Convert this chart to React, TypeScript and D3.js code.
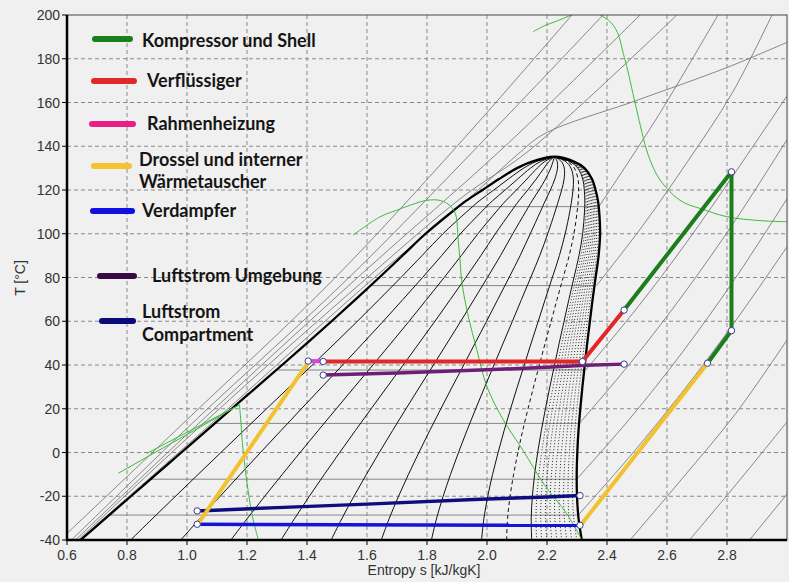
import React from "react";
import * as d3 from "d3";

// Saturation dome of the refrigerant (temperature in °C, entropy in kJ/kgK)
const satT = [-40, -30, -20, -10, 0, 10, 20, 30, 40, 50, 60, 70, 80, 90, 100, 110, 115, 120, 125, 130, 133, 135.2];
const satLiquidS = [0.645, 0.729, 0.813, 0.897, 0.981, 1.065, 1.149, 1.233, 1.317, 1.4, 1.482, 1.562, 1.641, 1.718, 1.795, 1.883, 1.93, 1.985, 2.04, 2.1, 2.15, 2.225];
const satVaporS = [2.316, 2.305, 2.3, 2.299, 2.301, 2.305, 2.311, 2.318, 2.326, 2.334, 2.343, 2.352, 2.362, 2.372, 2.377, 2.374, 2.37, 2.362, 2.35, 2.325, 2.29, 2.225];

// Vapour quality lines inside the dome
const qualitySolid = [0.1, 0.2, 0.3, 0.4, 0.5, 0.6, 0.7, 0.8, 0.9];
const qualityDashed = [0.85];
const qualityDotted = [0.91, 0.92, 0.93, 0.94, 0.95, 0.96, 0.97, 0.98, 0.99];

// Saturation temperatures of the isobars drawn across the two-phase region
const isobarSatT = [-28.6, -12.2, 13.3, 37.7, 76.3, 112.4];

// Isobars in the superheated vapour region [s, T]
const vaporIsobars: number[][][] = [
  [[2.477, -40], [2.65, -12], [2.83, 18], [3.0, 51.4]],
  [[2.675, -40], [2.84, -13], [3.0, 14]],
  [[2.875, -40], [3.0, -19]],
  [[2.304, -28.6], [2.475, -2], [2.65, 27.5], [2.825, 59.5], [3.0, 94]],
  [[2.299, -12.2], [2.475, 15.3], [2.65, 45.6], [2.825, 79.1], [3.0, 116]],
  [[2.308, 13.3], [2.481, 41.4], [2.654, 72.2], [2.827, 106], [3.0, 143]],
  [[2.329, 37.7], [2.4975, 65.6], [2.665, 96], [2.8325, 129], [3.0, 163]],
  [[2.365, 76.3], [2.518, 103.5], [2.668, 132.9], [2.818, 164.5], [2.95, 200]],
  [[2.373, 112.4], [2.571, 154], [2.77, 200]],
];

// High-pressure isobars along the liquid side and over the critical point [s, T]
const liquidIsobars: number[][][] = [
  [[0.6, -37], [1.0, 15], [1.487, 79], [1.9, 140], [2.283, 200]],
  [[0.615, -40], [1.03, 15], [1.54, 80], [1.97, 140], [2.387, 200]],
  [[0.628, -40], [1.06, 16], [1.585, 82], [2.06, 140], [2.51, 200]],
  [[0.637, -40], [1.08, 16.5], [1.61, 81], [1.92, 117], [2.14, 138], [2.633, 200]],
  [[0.641, -40], [1.1, 15.5], [1.625, 80], [1.93, 115], [2.1, 136], [2.19, 145.6], [2.5, 161], [2.8, 176], [3.0, 187.5]],
];

// Thin green isolines [s, T]
const greenLines: number[][][] = [
  [[0.771, -9.5], [1.175, 21.8]],
  [[0.866, -0.4], [1.175, 21.8]],
  [[1.175, 21.8], [1.178, 17], [1.188, -0.4], [1.216, -27.8], [1.238, -40]],
  [[1.554, 99.4], [1.643, 107.7], [1.7, 110.8], [1.76, 113.8], [1.8, 115.3], [1.845, 115.2], [1.877, 112.8], [1.895, 109], [1.904, 97], [1.91, 88], [1.916, 78], [1.938, 62], [1.966, 47], [2.0, 30], [2.054, 15], [2.12, 1], [2.19, -14.5], [2.266, -28], [2.316, -40]],
  [[2.377, 200], [2.41, 197], [2.435, 192], [2.455, 182], [2.466, 176.4], [2.499, 156.6], [2.532, 138.3], [2.555, 130], [2.577, 124.6], [2.621, 117.7], [2.66, 114], [2.71, 111.6], [2.799, 107.8], [2.91, 106], [3.0, 105.5]],
  [[2.154, 192.4], [2.19, 195], [2.232, 197.2], [2.282, 200]],
];

// Refrigeration cycle and air streams [s, T]
const compressorShell = [[2.735, 40.8], [2.815, 55.7], [2.815, 128.3], [2.457, 65.1]];
const condenser = [[2.457, 65.1], [2.318, 41.6], [1.454, 41.6]];
const frameHeater = [[1.454, 41.7], [1.404, 41.8]];
const throttleLiquid = [[1.404, 41.3], [1.038, -32.4]];
const suctionHX = [[2.316, -32.6], [2.735, 40.8]];
const evaporator = [[1.034, -32.8], [2.31, -33.3]];
const ambientAir = [[1.454, 35.4], [1.7, 36.3], [2.0, 37.8], [2.2, 39.0], [2.33, 39.9], [2.457, 40.4]];
const compartmentAir = [[1.034, -26.7], [1.3, -25.2], [1.6, -23.6], [1.977, -21.4], [2.2, -20.3], [2.31, -19.7]];
const statePoints = [[1.404, 41.8], [1.454, 41.6], [1.454, 35.4], [2.318, 41.6], [2.457, 65.1], [2.457, 40.4], [2.815, 128.3], [2.815, 55.7], [2.735, 40.8], [1.034, -26.7], [1.034, -32.8], [2.31, -19.7], [2.31, -33.3]];

// Axis ticks
const xTicks = [0.6, 0.8, 1.0, 1.2, 1.4, 1.6, 1.8, 2.0, 2.2, 2.4, 2.6, 2.8];
const yTicks = [-40, -20, 0, 20, 40, 60, 80, 100, 120, 140, 160, 180, 200];

// Legend entries
const legendLabels = [
  ["Kompressor und Shell"],
  ["Verflüssiger"],
  ["Rahmenheizung"],
  ["Drossel und interner", "Wärmetauscher"],
  ["Verdampfer"],
  ["Luftstrom Umgebung"],
  ["Luftstrom", "Compartment"],
];
const legendColors = ["#17801a", "#e02a2a", "#ea1f86", "#f5c42c", "#1010e0", "#3a0a42", "#0a0a7a"];

const W = 789;
const H = 582;
const M = { left: 67, right: 787, top: 15, bottom: 540 };

export default function App() {
  const x = d3.scaleLinear().domain([0.6, 3.0]).range([M.left, M.right]);
  const y = d3.scaleLinear().domain([-40, 200]).range([M.bottom, M.top]);

  const line = d3.line<number[]>().x((d) => x(d[0])).y((d) => y(d[1]));
  const smooth = d3.line<number[]>().x((d) => x(d[0])).y((d) => y(d[1])).curve(d3.curveCatmullRom.alpha(0.5));

  const interp = (arr: number[], t: number) => {
    const i = d3.bisectLeft(satT, t);
    if (i <= 0) return arr[0];
    if (i >= satT.length) return arr[arr.length - 1];
    const f = (t - satT[i - 1]) / (satT[i] - satT[i - 1]);
    return arr[i - 1] + f * (arr[i] - arr[i - 1]);
  };

  const qualityPath = (q: number) =>
    smooth(satT.map((t, i) => [satLiquidS[i] + q * (satVaporS[i] - satLiquidS[i]), t]));

  const domePts = [
    ...satT.map((t, i) => [satLiquidS[i], t]),
    ...satT.map((t, i) => [satVaporS[i], t]).reverse().slice(1),
  ];

  const legendRows = [
    { ly: 39, lx0: 95, lx1: 130, tx: 142, ty: [47] },
    { ly: 81, lx0: 94, lx1: 134, tx: 147, ty: [87] },
    { ly: 124, lx0: 92, lx1: 133, tx: 147, ty: [130] },
    { ly: 166, lx0: 94, lx1: 129, tx: 139, ty: [166, 188] },
    { ly: 211, lx0: 93, lx1: 132, tx: 142, ty: [217] },
    { ly: 276, lx0: 100, lx1: 134, tx: 152, ty: [282] },
    { ly: 321, lx0: 102, lx1: 133, tx: 142, ty: [318, 341] },
  ];

  const cycle = [
    { d: ambientAir, c: "#6e1e78", w: 3.5 },
    { d: compartmentAir, c: "#0d0d80", w: 3.5 },
    { d: evaporator, c: "#1414d8", w: 3.5 },
    { d: throttleLiquid, c: "#f2c22e", w: 4 },
    { d: suctionHX, c: "#f2c22e", w: 4 },
    { d: condenser, c: "#e32626", w: 4 },
    { d: frameHeater, c: "#e040e0", w: 4 },
    { d: compressorShell, c: "#1c7d1c", w: 4 },
  ];

  return (
    <div style={{ position: "absolute", left: 0, top: 0 }}>
      <svg width={W} height={H} style={{ display: "block", fontFamily: "'Liberation Sans', Arial, sans-serif" }}>
        <defs>
          <clipPath id="plot">
            <rect x={M.left} y={M.top} width={M.right - M.left} height={M.bottom - M.top} />
          </clipPath>
        </defs>
        <rect x={0} y={0} width={W} height={H} fill="#f0f0f0" />

        {/* grid */}
        <g stroke="#8a8a8a" strokeWidth={1} strokeDasharray="4,3">
          {xTicks.slice(1).map((t) => (
            <line key={"gx" + t} x1={x(t)} x2={x(t)} y1={M.top} y2={M.bottom} />
          ))}
          {yTicks.slice(1, -1).map((t) => (
            <line key={"gy" + t} x1={M.left} x2={M.right} y1={y(t)} y2={y(t)} />
          ))}
        </g>

        <g clipPath="url(#plot)" fill="none">
          {/* isobars */}
          <g stroke="#7a7a7a" strokeWidth={0.9}>
            {vaporIsobars.map((p, i) => (
              <path key={"vi" + i} d={smooth(p) || ""} />
            ))}
            {liquidIsobars.map((p, i) => (
              <path key={"li" + i} d={smooth(p) || ""} />
            ))}
            {isobarSatT.map((t) => (
              <line key={"hi" + t} x1={x(interp(satLiquidS, t))} x2={x(interp(satVaporS, t))} y1={y(t)} y2={y(t)} />
            ))}
          </g>

          {/* quality lines */}
          <g stroke="#111" strokeWidth={1}>
            {qualitySolid.map((q) => (
              <path key={"qs" + q} d={qualityPath(q) || ""} />
            ))}
            {qualityDashed.map((q) => (
              <path key={"qd" + q} d={qualityPath(q) || ""} strokeDasharray="4,3" />
            ))}
            {qualityDotted.map((q) => (
              <path key={"qo" + q} d={qualityPath(q) || ""} strokeDasharray="1,2" strokeWidth={0.9} />
            ))}
          </g>

          {/* saturation dome */}
          <path d={smooth(domePts) || ""} stroke="#000" strokeWidth={2.3} />

          {/* green isolines */}
          <g stroke="#3dbb3d" strokeWidth={1}>
            {greenLines.map((p, i) => (
              <path key={"gl" + i} d={smooth(p) || ""} />
            ))}
          </g>

          {/* cycle */}
          {cycle.map((c, i) => (
            <path key={"cy" + i} d={line(c.d) || ""} stroke={c.c} strokeWidth={c.w} strokeLinejoin="round" />
          ))}
          {statePoints.map((p, i) => (
            <circle key={"sp" + i} cx={x(p[0])} cy={y(p[1])} r={3.2} fill="#ffffff" stroke="#3a3a8c" strokeWidth={1} />
          ))}
        </g>

        {/* legend */}
        <g>
          {legendRows.map((r, i) => (
            <g key={"lg" + i}>
              <line x1={r.lx0} x2={r.lx1} y1={r.ly} y2={r.ly} stroke={legendColors[i]} strokeWidth={6} strokeLinecap="round" />
              {legendLabels[i].map((txt, j) => (
                <text key={j} x={r.tx} y={r.ty[j]} fontFamily="Lato, 'Open Sans', sans-serif" fontWeight={700} fontSize={18} fill="#151515">
                  {txt}
                </text>
              ))}
            </g>
          ))}
        </g>

        {/* frame and axes */}
        <rect x={M.left} y={M.top} width={M.right - M.left} height={M.bottom - M.top} fill="none" stroke="#444" strokeWidth={1} />
        <line x1={M.left} x2={M.left} y1={M.top} y2={M.bottom + 1} stroke="#000" strokeWidth={2.5} />
        <line x1={M.left - 1} x2={M.right} y1={M.bottom} y2={M.bottom} stroke="#000" strokeWidth={2.5} />

        <g fontSize={14} fill="#333">
          {yTicks.map((t) => (
            <g key={"yt" + t}>
              <line x1={M.left - 5} x2={M.left} y1={y(t)} y2={y(t)} stroke="#000" />
              <text x={M.left - 7} y={y(t) + 5} textAnchor="end">{t}</text>
            </g>
          ))}
          {xTicks.map((t) => (
            <g key={"xt" + t}>
              <line x1={x(t)} x2={x(t)} y1={M.bottom} y2={M.bottom + 5} stroke="#000" />
              <text x={x(t)} y={M.bottom + 20} textAnchor="middle">{t.toFixed(1)}</text>
            </g>
          ))}
          <text x={424} y={575} textAnchor="middle">Entropy s [kJ/kgK]</text>
          <text transform="translate(25,278) rotate(-90)" textAnchor="middle">T [°C]</text>
        </g>
      </svg>
    </div>
  );
}
